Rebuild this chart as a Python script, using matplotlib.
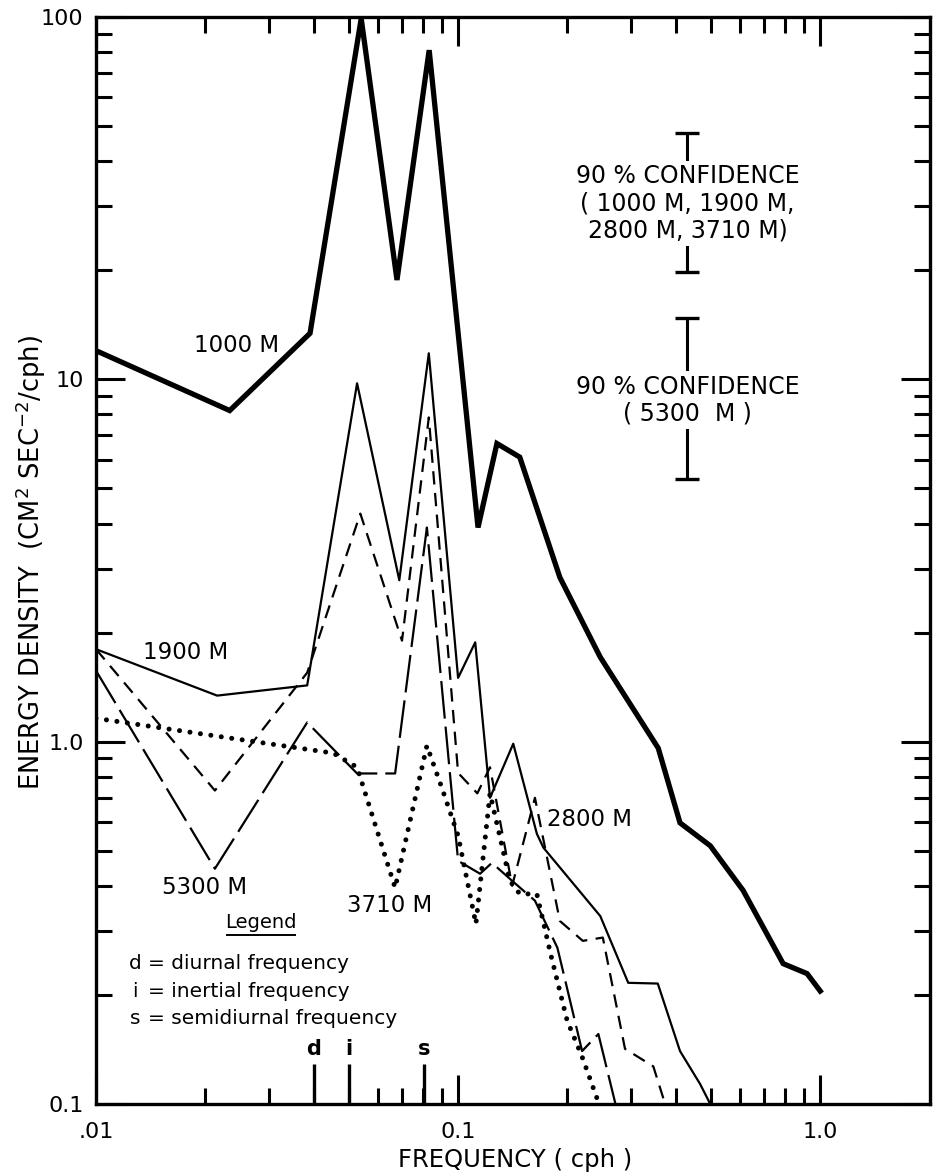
import numpy as np
import matplotlib
matplotlib.use("Agg")
import matplotlib.pyplot as plt

plt.rcParams['font.family'] = ['DejaVu Sans']
plt.rcParams['mathtext.fontset'] = 'dejavusans'

# spectra (frequency in cph, energy density)
f_1000 = [0.01, 0.0234, 0.039, 0.054, 0.0678, 0.0832, 0.1135, 0.128, 0.148, 0.191,
          0.247, 0.357, 0.41, 0.497, 0.612, 0.79, 0.92, 1.0]
e_1000 = [12.0, 8.2, 13.4, 99.0, 18.8, 81.0, 3.9, 6.65, 6.1, 2.84,
          1.71, 0.96, 0.597, 0.516, 0.389, 0.244, 0.229, 0.205]

f_1900 = [0.01, 0.0216, 0.0383, 0.0526, 0.0688, 0.083, 0.1, 0.1115, 0.1225, 0.142,
          0.165, 0.172, 0.247, 0.295, 0.356, 0.41, 0.466, 0.497]
e_1900 = [1.8, 1.34, 1.43, 9.75, 2.79, 11.8, 1.5, 1.88, 0.70, 0.987,
          0.557, 0.51, 0.33, 0.216, 0.215, 0.14, 0.1135, 0.1]

f_2800 = [0.01, 0.0213, 0.0383, 0.0537, 0.07, 0.083, 0.1, 0.113, 0.1225, 0.141,
          0.163, 0.191, 0.221, 0.251, 0.289, 0.346, 0.373]
e_2800 = [1.8, 0.733, 1.55, 4.26, 1.90, 7.85, 0.82, 0.72, 0.85, 0.40,
          0.70, 0.32, 0.282, 0.288, 0.142, 0.127, 0.1]

f_3710 = [0.01, 0.0224, 0.0452, 0.0526, 0.067, 0.082, 0.09, 0.1, 0.112, 0.1225,
          0.139, 0.148, 0.165, 0.18, 0.20, 0.22, 0.245]
e_3710 = [1.16, 1.03, 0.93, 0.85, 0.395, 0.975, 0.75, 0.55, 0.314, 0.72,
          0.413, 0.38, 0.38, 0.26, 0.17, 0.135, 0.1]

f_5300 = [0.01, 0.0213, 0.0383, 0.0526, 0.067, 0.082, 0.1, 0.115, 0.124, 0.141,
          0.163, 0.188, 0.22, 0.244, 0.272]
e_5300 = [1.57, 0.446, 1.13, 0.817, 0.817, 3.9, 0.469, 0.432, 0.463, 0.413,
          0.364, 0.27, 0.14, 0.156, 0.1]

# 90% confidence bars
conf_x = [0.43, 0.43]
conf_hi = [47.8, 14.8]
conf_lo = [19.8, 5.3]
conf_text = ["90 % CONFIDENCE\n( 1000 M, 1900 M,\n2800 M, 3710 M)",
             "90 % CONFIDENCE\n( 5300  M )"]
conf_text_y = [30.6, 8.75]

# d, i, s marks
mark_f = [0.04, 0.05, 0.0805]
mark_lbl = ['d', 'i', 's']

fig = plt.figure(figsize=(9.33, 11.76), dpi=100)
ax = fig.add_axes([96/933, 72/1176, 834/933, 1087/1176])
ax.set_xscale('log')
ax.set_yscale('log')
ax.set_xlim(0.01, 2.01)
ax.set_ylim(0.1, 100)

ax.plot(f_1000, e_1000, color='black', lw=3.8, solid_joinstyle='miter')
ax.plot(f_1900, e_1900, color='black', lw=1.6)
ax.plot(f_2800, e_2800, color='black', lw=1.6, linestyle=(0, (6, 3.8)))
ax.plot(f_5300, e_5300, color='black', lw=1.6, linestyle=(0, (17, 3.6)))
ax.plot(f_3710, e_3710, color='black', lw=3.6, linestyle=(0, (0.01, 2.1)),
        dash_capstyle='round')

# confidence bars
ax.vlines(conf_x, conf_lo, conf_hi, color='black', lw=2.2)
ax.plot(conf_x + conf_x, conf_lo + conf_hi, ls='none', marker='_', ms=17,
        mew=2.4, color='black')
for x, y, t in zip(conf_x, conf_text_y, conf_text):
    ax.text(x, y, t, ha='center', va='center', fontsize=17, linespacing=1.15,
            bbox=dict(boxstyle='square,pad=0.15', fc='white', ec='none'))

# series labels
ax.text(0.0244, 12.4, "1000 M", ha='center', va='center', fontsize=16.5)
ax.text(0.0177, 1.76, "1900 M", ha='center', va='center', fontsize=16.5)
ax.text(0.0199, 0.395, "5300 M", ha='center', va='center', fontsize=16.5)
ax.text(0.0649, 0.352, "3710 M", ha='center', va='center', fontsize=16.5)
ax.text(0.230, 0.61, "2800 M", ha='center', va='center', fontsize=16.5)

# legend text
ax.text(0.0286, 0.316, "Legend", ha='center', va='center', fontsize=14)
ax.plot([0.0230, 0.0355], [0.293, 0.293], color='black', lw=1.4)
legend_y = [0.244, 0.205, 0.172]
legend_desc = ["= diurnal frequency", "= inertial frequency", "= semidiurnal frequency"]
for k, d, y in zip(mark_lbl, legend_desc, legend_y):
    ax.text(0.0128, y, k, ha='center', va='center', fontsize=14.5)
    ax.text(0.0139, y, d, ha='left', va='center', fontsize=14.5)

# frequency marks on the bottom axis
ax.vlines(mark_f, 0.1, 0.129, color='black', lw=2.4)
for f, l in zip(mark_f, mark_lbl):
    ax.text(f, 0.142, l, ha='center', va='center', fontsize=15, fontweight='bold')

# ticks
ax.set_xticks([0.01, 0.1, 1.0])
ax.set_xticklabels(['.01', '0.1', '1.0'])
ax.set_xticks([0.02, 0.03, 0.04, 0.05, 0.06, 0.07, 0.08, 0.09,
               0.2, 0.3, 0.4, 0.5, 0.6, 0.7, 0.8, 0.9], minor=True)
ax.xaxis.set_minor_formatter(matplotlib.ticker.NullFormatter())
ax.set_yticks([0.1, 1.0, 10, 100])
ax.set_yticklabels(['0.1', '1.0', '10', '100'])
ax.yaxis.set_minor_formatter(matplotlib.ticker.NullFormatter())
ax.tick_params(which='both', direction='in', top=True, right=True, width=2.2,
               labelsize=16)
ax.tick_params(which='major', length=21)
ax.tick_params(which='minor', length=11.5)
ax.tick_params(axis='x', pad=13)
ax.tick_params(axis='y', pad=9)
for s in ax.spines.values():
    s.set_linewidth(2.4)

fig.text(31/933, 1 - 562/1176, r"ENERGY DENSITY  (CM$^{2}$ SEC$^{-2}$/cph)",
         rotation=90, ha='center', va='center', fontsize=18.5)
fig.text(515/933, 1 - 1160/1176, "FREQUENCY ( cph )", ha='center', va='center',
         fontsize=17.5)

fig.savefig("out.png", dpi=100, facecolor='white')
